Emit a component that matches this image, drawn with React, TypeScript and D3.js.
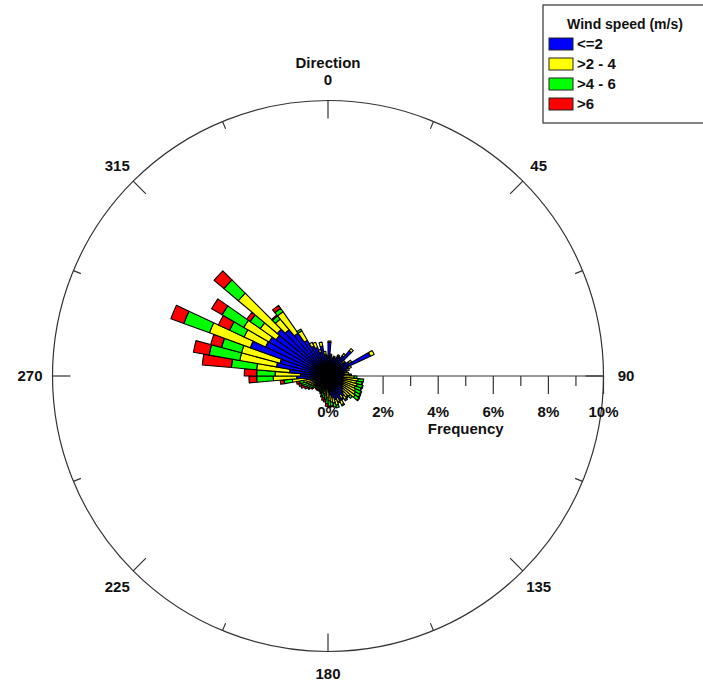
import React from "react";
import * as d3 from "d3";

// Direction sector centres (degrees, clockwise from north), 5° sectors
const sectors = [
  2.5, 7.5, 12.5, 17.5, 22.5, 27.5, 32.5, 37.5, 42.5, 47.5, 52.5, 57.5,
  62.5, 67.5, 72.5, 77.5, 82.5, 87.5, 92.5, 97.5, 102.5, 107.5, 112.5, 117.5,
  122.5, 127.5, 132.5, 137.5, 142.5, 147.5, 152.5, 157.5, 162.5, 167.5, 172.5, 177.5,
  182.5, 187.5, 192.5, 197.5, 202.5, 207.5, 212.5, 217.5, 222.5, 227.5, 232.5, 237.5,
  242.5, 247.5, 252.5, 257.5, 262.5, 267.5, 272.5, 277.5, 282.5, 287.5, 292.5, 297.5,
  302.5, 307.5, 312.5, 317.5, 322.5, 327.5, 332.5, 337.5, 342.5, 347.5, 352.5, 357.5,
];

// Frequency (%) per speed class per sector
const speedLE2 = [
  1.22, 0.75, 0.6, 0.7, 0.65, 0.8, 0.75, 0.9, 1.2, 0.7, 0.75, 0.9,
  1.7, 0.8, 0.7, 0.6, 0.6, 0.6, 0.55, 0.6, 0.55, 0.6, 0.55, 0.6,
  0.6, 0.65, 0.7, 0.8, 0.9, 0.8, 1.0, 0.85, 0.9, 0.8, 0.7, 0.6,
  0.5, 0.45, 0.4, 0.4, 0.35, 0.35, 0.35, 0.3, 0.3, 0.35, 0.35, 0.4,
  0.4, 0.45, 0.5, 0.6, 0.8, 1.14, 1.0, 1.4, 1.9, 1.8, 3.0, 2.5,
  2.47, 2.3, 2.4, 2.2, 1.9, 1.5, 1.2, 1.1, 0.9, 1.1, 0.8, 0.7,
];
const speed2to4 = [
  0.05, 0.05, 0.05, 0.05, 0.05, 0.05, 0.05, 0.1, 0.1, 0.1, 0.05, 0.1,
  0.15, 0.1, 0.1, 0.1, 0.15, 0.2, 0.4, 0.5, 0.5, 0.5, 0.5, 0.5,
  0.55, 0.55, 0.35, 0.2, 0.15, 0.15, 0.15, 0.15, 0.2, 0.2, 0.25, 0.3,
  0.3, 0.25, 0.25, 0.2, 0.2, 0.15, 0.15, 0.2, 0.2, 0.15, 0.2, 0.2,
  0.3, 0.3, 0.3, 0.3, 0.5, 0.85, 0.92, 1.2, 1.35, 1.45, 1.58, 0.86,
  1.06, 0.7, 1.85, 0.5, 0.95, 0.4, 0.15, 0.2, 0.1, 0.15, 0.1, 0.05,
];
const speed4to6 = [
  0, 0, 0, 0, 0, 0, 0, 0, 0, 0, 0, 0,
  0, 0, 0, 0, 0, 0.05, 0.1, 0.2, 0.2, 0.2, 0.23, 0.22,
  0.2, 0.18, 0.1, 0.05, 0.05, 0.05, 0.05, 0.05, 0.1, 0.15, 0.15, 0.2,
  0.2, 0.15, 0.15, 0.15, 0.1, 0.1, 0.1, 0.1, 0.1, 0.1, 0.15, 0.2,
  0.15, 0.2, 0.2, 0.15, 0.3, 0.6, 0.67, 0.92, 1.13, 0.75, 0.99, 0.58,
  0.91, 0.45, 0.68, 0.15, 0.15, 0.07, 0, 0, 0, 0, 0, 0,
];
const speedGT6 = [
  0, 0, 0, 0, 0, 0, 0, 0, 0, 0, 0, 0,
  0, 0, 0, 0, 0, 0, 0, 0, 0.03, 0.02, 0.02, 0.03,
  0.02, 0.02, 0, 0, 0, 0, 0, 0, 0, 0, 0.02, 0.05,
  0.1, 0.1, 0.1, 0.05, 0.05, 0.05, 0.02, 0.05, 0.05, 0.02, 0.05, 0.05,
  0.1, 0.1, 0.1, 0.11, 0.14, 0.28, 0.45, 1.06, 0.58, 0.41, 0.5, 0.45,
  0.44, 0.15, 0.47, 0.05, 0.13, 0, 0, 0, 0, 0, 0, 0,
];

const classLabels = ["<=2", ">2 - 4", ">4 - 6", ">6"];
const classColors = ["#0000FF", "#FFFF00", "#00FF00", "#FF0000"];
const radialTicks = [0, 1, 2, 3, 4, 5, 6, 7, 8, 9, 10];
const directionLabels = [0, 45, 90, 135, 180, 225, 270, 315];
const minorDirTicks = [22.5, 67.5, 112.5, 157.5, 202.5, 247.5, 292.5, 337.5];

const W = 703;
const H = 685;
const cx = 328;
const cy = 376;
const R = 275.5;
const FONT = "'Liberation Sans', Arial, sans-serif";

export default function App() {
  const r = d3.scaleLinear().domain([0, 10]).range([0, R]);
  const series = [speedLE2, speed2to4, speed4to6, speedGT6];
  const stacked = sectors.map((_, i) => {
    let acc = 0;
    return series.map((s) => {
      const start = acc;
      acc += s[i];
      return [start, acc];
    });
  });
  const half = (2.5 * Math.PI) / 180;
  const arc = d3.arc<any>();
  const toRad = (deg: number) => (deg * Math.PI) / 180;
  const pt = (deg: number, rad: number) => [
    cx + rad * Math.sin(toRad(deg)),
    cy - rad * Math.cos(toRad(deg)),
  ];

  return (
    <svg
      width={W}
      height={H}
      style={{ position: "absolute", left: 0, top: 0, background: "#fff" }}
      fontFamily={FONT}
    >
      <rect x={0} y={0} width={W} height={H} fill="#fff" />
      <circle cx={cx} cy={cy} r={R} fill="none" stroke="#333" strokeWidth={1.2} />
      {directionLabels.map((d) => {
        const [x1, y1] = pt(d, R);
        const [x2, y2] = pt(d, R - 18);
        return <line key={"mt" + d} x1={x1} y1={y1} x2={x2} y2={y2} stroke="#333" strokeWidth={1.2} />;
      })}
      {minorDirTicks.map((d) => {
        const [x1, y1] = pt(d, R);
        const [x2, y2] = pt(d, R - 8);
        return <line key={"nt" + d} x1={x1} y1={y1} x2={x2} y2={y2} stroke="#333" strokeWidth={1.2} />;
      })}
      {directionLabels.map((d) => {
        const [x, y] = pt(d, d === 0 ? 296 : 298);
        return (
          <text key={"dl" + d} x={x} y={y} dy="0.35em" textAnchor="middle" fontSize={15} fontWeight="bold" fill="#111">
            {d}
          </text>
        );
      })}
      <text x={cx} y={68} textAnchor="middle" fontSize={15} fontWeight="bold" fill="#111">
        Direction
      </text>
      {/* radial axis */}
      <line x1={cx} y1={cy} x2={cx + r(10)} y2={cy} stroke="#333" strokeWidth={1.2} />
      {radialTicks.map((t) => (
        <line
          key={"rt" + t}
          x1={cx + r(t)}
          y1={cy}
          x2={cx + r(t)}
          y2={cy + (t % 2 === 0 ? 18 : 10)}
          stroke="#333"
          strokeWidth={1.2}
        />
      ))}
      {radialTicks
        .filter((t) => t % 2 === 0)
        .map((t) => (
          <text key={"rl" + t} x={cx + r(t)} y={417} textAnchor="middle" fontSize={15} fontWeight="bold" fill="#111">
            {t + "%"}
          </text>
        ))}
      <text x={cx + r(5)} y={434} textAnchor="middle" fontSize={15} fontWeight="bold" fill="#111">
        Frequency
      </text>
      {/* bars */}
      <g transform={`translate(${cx},${cy})`}>
        {sectors.map((deg, i) =>
          stacked[i].map(([a, b], k) =>
            b > a ? (
              <path
                key={`b${i}-${k}`}
                d={
                  arc({
                    innerRadius: r(a),
                    outerRadius: r(b),
                    startAngle: toRad(deg) - half,
                    endAngle: toRad(deg) + half,
                  }) as string
                }
                fill={classColors[k]}
                stroke="#000"
                strokeWidth={1.1}
                strokeLinejoin="round"
              />
            ) : null
          )
        )}
      </g>
      {/* legend */}
      <rect x={543} y={5} width={175} height={118} fill="#fff" stroke="#333" strokeWidth={1.2} />
      <text x={625} y={29} textAnchor="middle" fontSize={14} fontWeight="bold" fill="#111">
        Wind speed (m/s)
      </text>
      {classLabels.map((lab, k) => (
        <g key={"lg" + k}>
          <rect x={549} y={38 + k * 20} width={24} height={12} fill={classColors[k]} stroke="#222" strokeWidth={1} />
          <text x={577} y={49 + k * 20} fontSize={15} fontWeight="bold" fill="#111">
            {lab}
          </text>
        </g>
      ))}
    </svg>
  );
}
